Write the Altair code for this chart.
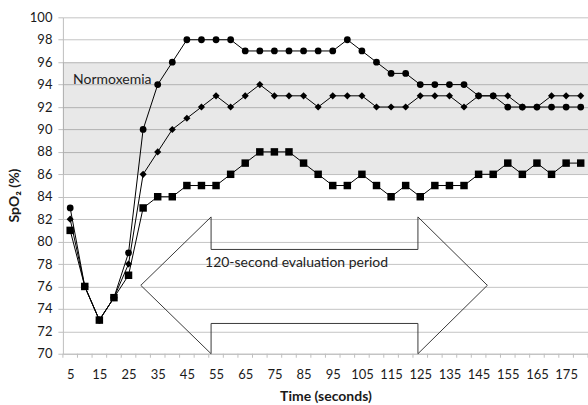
import altair as alt
import pandas as pd

# ---- data ----
times = list(range(5, 185, 5))
circle_vals = [83, 76, 73, 75, 79, 90, 94, 96, 98, 98, 98, 98, 97, 97, 97, 97, 97, 97,
               97, 98, 97, 96, 95, 95, 94, 94, 94, 94, 93, 93, 92, 92, 92, 92, 92, 92]
diamond_vals = [82, 76, 73, 75, 78, 86, 88, 90, 91, 92, 93, 92, 93, 94, 93, 93, 93, 92,
                93, 93, 93, 92, 92, 92, 93, 93, 93, 92, 93, 93, 93, 92, 92, 93, 93, 93]
square_vals = [81, 76, 73, 75, 77, 83, 84, 84, 85, 85, 85, 86, 87, 88, 88, 88, 87, 86,
               85, 85, 86, 85, 84, 85, 84, 85, 85, 85, 86, 86, 87, 86, 87, 86, 87, 87]

x_labels = list(range(5, 180, 10))
y_ticks = list(range(70, 101, 2))
band_low, band_high = 86, 96

# annotation arrow outline (time, SpO2)
arrow_x = [29.2, 53.3, 53.3, 124.2, 124.2, 148.0, 124.2, 124.2, 53.3, 53.3, 29.2]
arrow_y = [76.1, 82.2, 79.3, 79.3, 82.2, 76.1, 70.0, 72.7, 72.7, 70.0, 76.1]
# arrow fill as area (x, top, bottom)
fill_x = [29.2, 53.3, 53.3, 124.2, 124.2, 148.0]
fill_top = [76.1, 82.2, 79.3, 79.3, 82.2, 76.1]
fill_bot = [76.1, 70.0, 72.7, 72.7, 70.0, 76.1]

FONT = "Lato"
xdom = [2.5, 182.5]
ydom = [70, 100]

rows = []
for name, vals in [("square", square_vals), ("diamond", diamond_vals), ("circle", circle_vals)]:
    for t, v in zip(times, vals):
        rows.append({"series": name, "x": t, "y": v})
df = pd.DataFrame(rows)

xs = alt.Scale(domain=xdom, nice=False, zero=False)
ys = alt.Scale(domain=ydom, nice=False, zero=False)

X_AXIS = alt.Axis(values=x_labels, ticks=False, tickSize=0, grid=False,
                  domainColor="#bfbfbf", labelFont=FONT, labelFontSize=13,
                  labelColor="#1a1a1a", labelPadding=15, title="Time (seconds)",
                  titleFont=FONT, titleFontSize=14, titleFontWeight="bold",
                  titleColor="#1a1a1a", titleBaseline="middle", titleY=43)
Y_AXIS = alt.Axis(values=y_ticks, tickSize=5, tickColor="#bfbfbf",
                  domainColor="#bfbfbf", grid=True, gridColor="#c4c4c4", labelFont=FONT,
                  labelFontSize=13, labelColor="#1a1a1a", labelPadding=6,
                  title="SpO₂ (%)", titleFont=FONT, titleFontSize=14,
                  titleFontWeight="bold", titleColor="#1a1a1a", titleAngle=270,
                  titleAlign="center", titleBaseline="middle", titleX=-48, titleY=178)


def X(field):
    return alt.X(field, type="quantitative", scale=xs, axis=X_AXIS)


def Y(field):
    return alt.Y(field, type="quantitative", scale=ys, axis=Y_AXIS)


band_df = pd.DataFrame({"x": [xdom[0]], "x2": [xdom[1]], "y": [band_low], "y2": [band_high]})
band = alt.Chart(band_df).mark_rect(color="#000000", opacity=0.09).encode(
    x=X("x"), x2="x2:Q", y=Y("y"), y2="y2:Q",
)

minor_df = pd.DataFrame({"x": [t - 2.5 for t in times] + [times[-1] + 2.5]})
minor = alt.Chart(minor_df).mark_rule(color="#bfbfbf", strokeWidth=1).encode(
    x=X("x"), y=alt.value(337), y2=alt.value(341)
)

fill_df = pd.DataFrame({"x": fill_x, "y": fill_top, "bot": fill_bot, "o": list(range(len(fill_x)))})
arrow_fill = alt.Chart(fill_df).mark_area(color="white", opacity=1).encode(
    x=X("x"), y=Y("y"), y2="bot:Q", order="o:Q",
)
outline_df = pd.DataFrame({"x": arrow_x, "y": arrow_y, "o": list(range(len(arrow_x)))})
arrow_line = alt.Chart(outline_df).mark_line(color="#3a3a3a", strokeWidth=1).encode(
    x=X("x"), y=Y("y"), order="o:Q",
)

lines = alt.Chart(df).mark_line(color="black", strokeWidth=1).encode(
    x=X("x"), y=Y("y"), detail="series:N",
)
shape_scale = alt.Scale(domain=["square", "diamond", "circle"], range=["square", "diamond", "circle"])
size_scale = alt.Scale(domain=["square", "diamond", "circle"], range=[56, 46, 52])
points = alt.Chart(df).mark_point(filled=True, color="black", opacity=1).encode(
    x=X("x"), y=Y("y"),
    shape=alt.Shape("series:N", scale=shape_scale, legend=None),
    size=alt.Size("series:N", scale=size_scale, legend=None),
)

txt_df = pd.DataFrame({"x": [6.0], "y": [94.4], "label": ["Normoxemia"]})
txt1 = alt.Chart(txt_df).mark_text(align="left", baseline="middle", font=FONT, fontSize=14,
                                   color="#222222").encode(
    x=X("x"), y=Y("y"), text="label:N")
txt2_df = pd.DataFrame({"x": [82.6], "y": [78.1], "label": ["120-second evaluation period"]})
txt2 = alt.Chart(txt2_df).mark_text(align="center", baseline="middle", font=FONT, fontSize=14,
                                    color="#222222").encode(
    x=X("x"), y=Y("y"), text="label:N")

chart = alt.layer(band, minor, arrow_fill, arrow_line, txt1, txt2, lines, points).properties(
    width=526, height=337,
    padding={"left": 63, "top": 17, "right": 0, "bottom": 51},
    autosize=alt.AutoSizeParams(type="none"),
    background="white",
).configure_view(stroke=None)

chart.save("out.html", embed_options={"renderer": "svg", "actions": False})
